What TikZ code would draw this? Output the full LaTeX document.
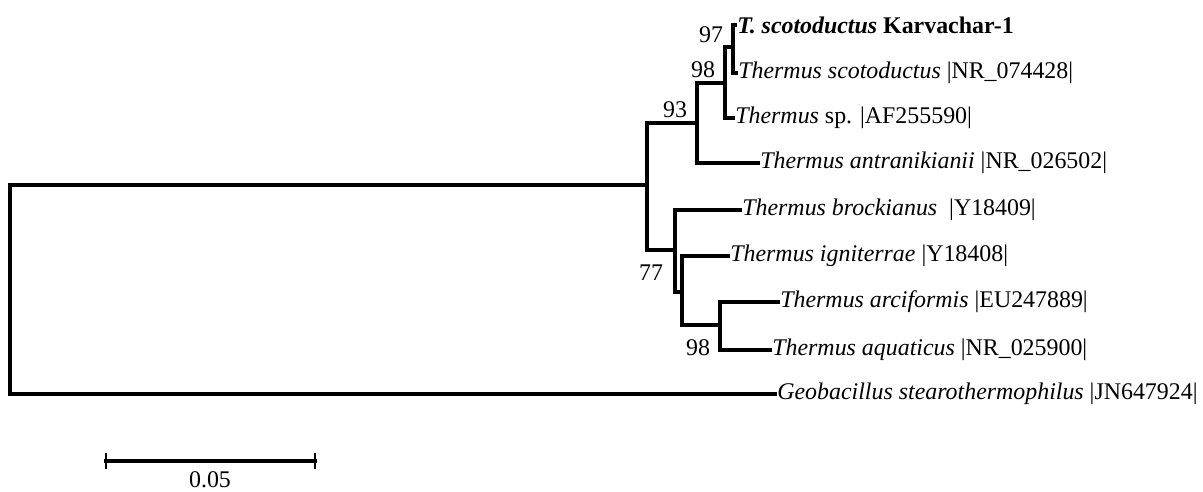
\documentclass[tikz,border=0pt]{standalone}
\usepackage{fontspec}
\setmainfont{Liberation Serif}
\usepackage{tikz}

\tikzset{
	branch/.style={line width=2.8pt},
	leaf/.style={anchor=west, inner sep=0pt, font=\fontsize{13.6pt}{16pt}\selectfont},
	boot/.style={inner sep=0pt, font=\fontsize{13.6pt}{16pt}\selectfont}
}

\begin{document}
\begin{tikzpicture}[x=0.02cm, y=-0.02cm]
		%%%%% START %%%%%
		\useasboundingbox (0, 0) rectangle (1203, 491);
		
		\coordinate (root) at (10, 290);
		\coordinate (thermus) at (647, 185);
		\coordinate (n93) at (697, 123);
		\coordinate (n98a) at (725, 83);
		\coordinate (n97) at (733, 47);
		\coordinate (n77) at (675, 250);
		\coordinate (nig) at (682, 292);
		\coordinate (n98b) at (720, 325);
		
		\node[leaf] (karv) at (737, 25) {\textbf{\textit{T. scotoductus}} \textbf{Karvachar-1}};
		\node[leaf] (scot) at (738, 73) {\textit{Thermus scotoductus} |NR\_074428|};
		\node[leaf] (tsp) at (735, 118) {\textit{Thermus} sp. |AF255590|};
		\node[leaf] (antr) at (760, 163) {\textit{Thermus antranikianii} |NR\_026502|};
		\node[leaf] (broc) at (742, 210) {\textit{Thermus brockianus}~ |Y18409|};
		\node[leaf] (igni) at (730, 256) {\textit{Thermus igniterrae} |Y18408|};
		\node[leaf] (arci) at (780, 302) {\textit{Thermus arciformis} |EU247889|};
		\node[leaf] (aqua) at (772, 350) {\textit{Thermus aquaticus} |NR\_025900|};
		\node[leaf] (geob) at (777, 394) {\textit{Geobacillus stearothermophilus} |JN647924|};
		
		\draw[branch] (root) |- (thermus);
		\draw[branch] (root) |- (geob.west);
		\draw[branch] (thermus) |- (n93);
		\draw[branch] (thermus) |- (n77);
		\draw[branch] (n93) |- (n98a);
		\draw[branch] (n93) |- (antr.west);
		\draw[branch] (n98a) |- (n97);
		\draw[branch] (n98a) |- (tsp.west);
		\draw[branch] (n97) |- (karv.west);
		\draw[branch] (n97) |- (scot.west);
		\draw[branch] (n77) |- (broc.west);
		\draw[branch] (n77) |- (nig);
		\draw[branch] (nig) |- (igni.west);
		\draw[branch] (nig) |- (n98b);
		\draw[branch] (n98b) |- (arci.west);
		\draw[branch] (n98b) |- (aqua.west);
		
		\node[boot] (b97) at (711, 35) {97};
		\node[boot] (b98a) at (703, 70) {98};
		\node[boot] (b93) at (675, 110) {93};
		\node[boot] (b77) at (651, 273) {77};
		\node[boot] (b98b) at (698, 348) {98};
		
		% scale bar
		\coordinate (sbl) at (104, 461);
		\coordinate (sbr) at (317, 461);
		\draw[branch] (sbl) -- (sbr);
		\draw[line width=0.8pt] (sbl) ++(2, -8) -- ++(0, 16);
		\draw[line width=0.8pt] (sbr) ++(-2, -8) -- ++(0, 16);
		\node[boot] (sblab) at (210, 480) {0.05};
		%%%%% END %%%%%
	\end{tikzpicture}
\end{document}
